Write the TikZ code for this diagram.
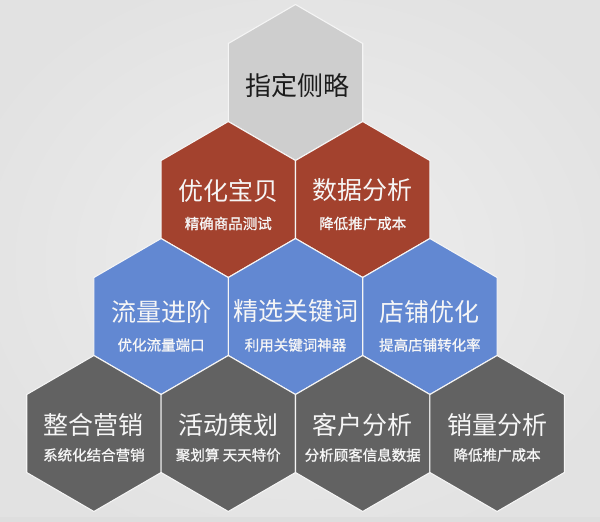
\documentclass[tikz,border=0pt]{standalone}
\usepackage{fontspec}
\newfontfamily\cjk{Noto Sans CJK SC}
\newfontfamily\cjkb[FakeBold=1]{Noto Sans CJK SC}
\definecolor{hexlight}{RGB}{206,206,206}
\definecolor{hexred}{RGB}{163,66,46}
\definecolor{hexblue}{RGB}{98,136,210}
\definecolor{hexgray}{RGB}{98,98,98}
\definecolor{txtdark}{RGB}{28,28,28}
\definecolor{txtlight}{RGB}{246,246,246}
\definecolor{bginner}{RGB}{238,238,238}
\definecolor{bgouter}{RGB}{226,226,226}
\definecolor{bgband}{RGB}{222,222,222}
\tikzset{
  hexbox/.style={fill=#1, draw=white!92!gray, line width=1.1pt, line join=miter},
  titletext/.style={font=\cjk\fontsize{25}{25}\selectfont, text=txtlight, inner sep=0pt},
  subtext/.style={font=\cjkb\fontsize{14.5}{14.5}\selectfont, text=txtlight, inner sep=0pt},
}
\newcommand\hexshape[3]{%
  \path[hexbox=#3] (#1,#2) +(0,-78) -- +(67.2,-39) -- +(67.2,39) -- +(0,78) -- +(-67.2,39) -- +(-67.2,-39) -- cycle;}
\begin{document}
\begin{tikzpicture}[x=1pt,y=-1pt]
\useasboundingbox (0,0) rectangle (600,522);
\shade[inner color=bginner, outer color=bgouter] (-60,-40) rectangle (660,562);
\fill[bgband] (0,517) rectangle (600,522);
% hexagons
\hexshape{295.5}{82.5}{hexlight}
\hexshape{228.3}{199.5}{hexred}
\hexshape{362.7}{199.5}{hexred}
\hexshape{161.1}{316.5}{hexblue}
\hexshape{295.5}{316.5}{hexblue}
\hexshape{429.9}{316.5}{hexblue}
\hexshape{93.9}{433.5}{hexgray}
\hexshape{228.3}{433.5}{hexgray}
\hexshape{362.7}{433.5}{hexgray}
\hexshape{497.1}{433.5}{hexgray}
% texts
\node[titletext, text=txtdark, font=\cjk\fontsize{26}{26}\selectfont] (t0) at (297,86) {指定侧略};
\node[titletext] (t1) at (228.3,190.5) {优化宝贝};
\node[subtext] (s1) at (228.3,223.5) {精确商品测试};
\node[titletext] (t2) at (362.7,190.5) {数据分析};
\node[subtext] (s2) at (362.7,223.5) {降低推广成本};
\node[titletext] (t3) at (161.1,311.5) {流量进阶};
\node[subtext] (s3) at (161.1,345) {优化流量端口};
\node[titletext] (t4) at (295.5,311.5) {精选关键词};
\node[subtext] (s4) at (295.5,345) {利用关键词神器};
\node[titletext] (t5) at (429.9,311.5) {店铺优化};
\node[subtext] (s5) at (429.9,345) {提高店铺转化率};
\node[titletext] (t6) at (93.9,425) {整合营销};
\node[subtext] (s6) at (93.9,455) {系统化结合营销};
\node[titletext] (t7) at (228.3,425) {活动策划};
\node[subtext] (s7) at (228.3,455) {聚划算 天天特价};
\node[titletext] (t8) at (362.7,425) {客户分析};
\node[subtext] (s8) at (362.7,455) {分析顾客信息数据};
\node[titletext] (t9) at (497.1,425) {销量分析};
\node[subtext] (s9) at (497.1,455) {降低推广成本};
\end{tikzpicture}
\end{document}
